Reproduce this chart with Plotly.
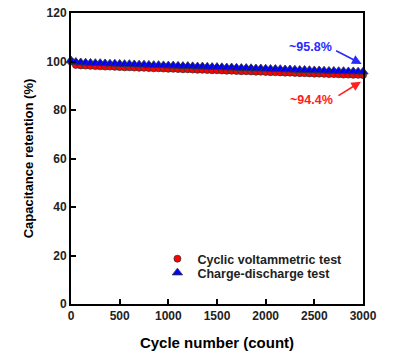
import plotly.graph_objects as go

cycles = list(range(0, 3001, 50))
cv_retention = [100.0, 98.6, 98.4, 98.3, 98.2, 98.1, 98.0, 97.9, 97.9, 97.8,
                97.7, 97.6, 97.6, 97.5, 97.4, 97.4, 97.3, 97.2, 97.2, 97.1,
                97.0, 97.0, 96.9, 96.8, 96.8, 96.7, 96.6, 96.6, 96.5, 96.4,
                96.4, 96.3, 96.2, 96.2, 96.1, 96.0, 96.0, 95.9, 95.8, 95.8,
                95.7, 95.6, 95.6, 95.5, 95.4, 95.4, 95.3, 95.2, 95.2, 95.1,
                95.0, 95.0, 94.9, 94.8, 94.8, 94.7, 94.6, 94.6, 94.5, 94.5, 94.4]
gcd_retention = [100.4, 99.8, 99.6, 99.5, 99.4, 99.3, 99.3, 99.2, 99.1, 99.1,
                 99.0, 98.9, 98.9, 98.8, 98.7, 98.7, 98.6, 98.5, 98.5, 98.4,
                 98.3, 98.3, 98.2, 98.1, 98.1, 98.0, 97.9, 97.9, 97.8, 97.7,
                 97.7, 97.6, 97.5, 97.5, 97.4, 97.3, 97.3, 97.2, 97.1, 97.1,
                 97.0, 96.9, 96.9, 96.8, 96.7, 96.7, 96.6, 96.5, 96.5, 96.4,
                 96.3, 96.3, 96.2, 96.1, 96.1, 96.0, 96.0, 95.9, 95.9, 95.8, 95.8]
x_ticks = [0, 500, 1000, 1500, 2000, 2500, 3000]
y_ticks = [0, 20, 40, 60, 80, 100, 120]

FONT = "Liberation Sans, Arial, sans-serif"

fig = go.Figure()
fig.add_trace(go.Scatter(
    x=cycles, y=cv_retention, mode="markers", name="Cyclic voltammetric test",
    marker=dict(symbol="circle", size=7, color="#ff0000",
                line=dict(color="#333333", width=0.8)),
    cliponaxis=False, legend="legend", showlegend=True))
fig.add_trace(go.Scatter(
    x=cycles, y=gcd_retention, mode="markers", name="Charge-discharge test",
    marker=dict(symbol="triangle-up", size=9, color="#0000ff",
                line=dict(color="#333333", width=0.8)),
    cliponaxis=False, legend="legend2", showlegend=True))

axis_common = dict(showline=True, linecolor="black", linewidth=2, mirror=True,
                   ticks="inside", ticklen=5, tickwidth=1.5, tickcolor="black",
                   showgrid=False, zeroline=False, automargin=False,
                   tickfont=dict(family=FONT, size=12, color="#222222", weight="bold"))

fig.update_xaxes(range=[0, 3000], tickvals=x_ticks,
                 title=dict(text="<b>Cycle number (count)</b>",
                            font=dict(family=FONT, size=15, color="black"), standoff=15),
                 **axis_common)
fig.update_yaxes(range=[0, 120], tickvals=y_ticks,
                 title=dict(text="<b>Capacitance retention (%)</b>",
                            font=dict(family=FONT, size=13, color="black"), standoff=10),
                 **axis_common)

fig.add_annotation(x=2986, y=99.0, xref="x", yref="y", ax=-27, ay=-14,
                   text="", showarrow=True, arrowhead=2, arrowsize=1.2,
                   arrowwidth=1.6, arrowcolor="#2a2aff")
fig.add_annotation(x=2979, y=91.7, xref="x", yref="y", ax=-24, ay=15,
                   text="", showarrow=True, arrowhead=2, arrowsize=1.2,
                   arrowwidth=1.6, arrowcolor="#ff2020")
fig.add_annotation(x=2460, y=106, xref="x", yref="y", text="<b>~95.8%</b>",
                   showarrow=False, font=dict(family=FONT, size=12.5, color="#2a2aff"))
fig.add_annotation(x=2473, y=84.1, xref="x", yref="y", text="<b>~94.4%</b>",
                   showarrow=False, font=dict(family=FONT, size=12.5, color="#ff2020"))

legend_common = dict(xanchor="left", yanchor="top", bgcolor="rgba(0,0,0,0)",
                     font=dict(family=FONT, size=12.5, color="#222222", weight="bold"),
                     itemsizing="trace")
fig.update_layout(
    width=395, height=357,
    margin=dict(l=71, r=32, t=13, b=53),
    plot_bgcolor="white", paper_bgcolor="white",
    showlegend=True,
    legend=dict(x=0.296, y=0.206, **legend_common),
    legend2=dict(x=0.296, y=0.158, **legend_common),
)

fig.write_html("out.html", config={"displayModeBar": False},
               post_script="document.body.style.margin='0';")
